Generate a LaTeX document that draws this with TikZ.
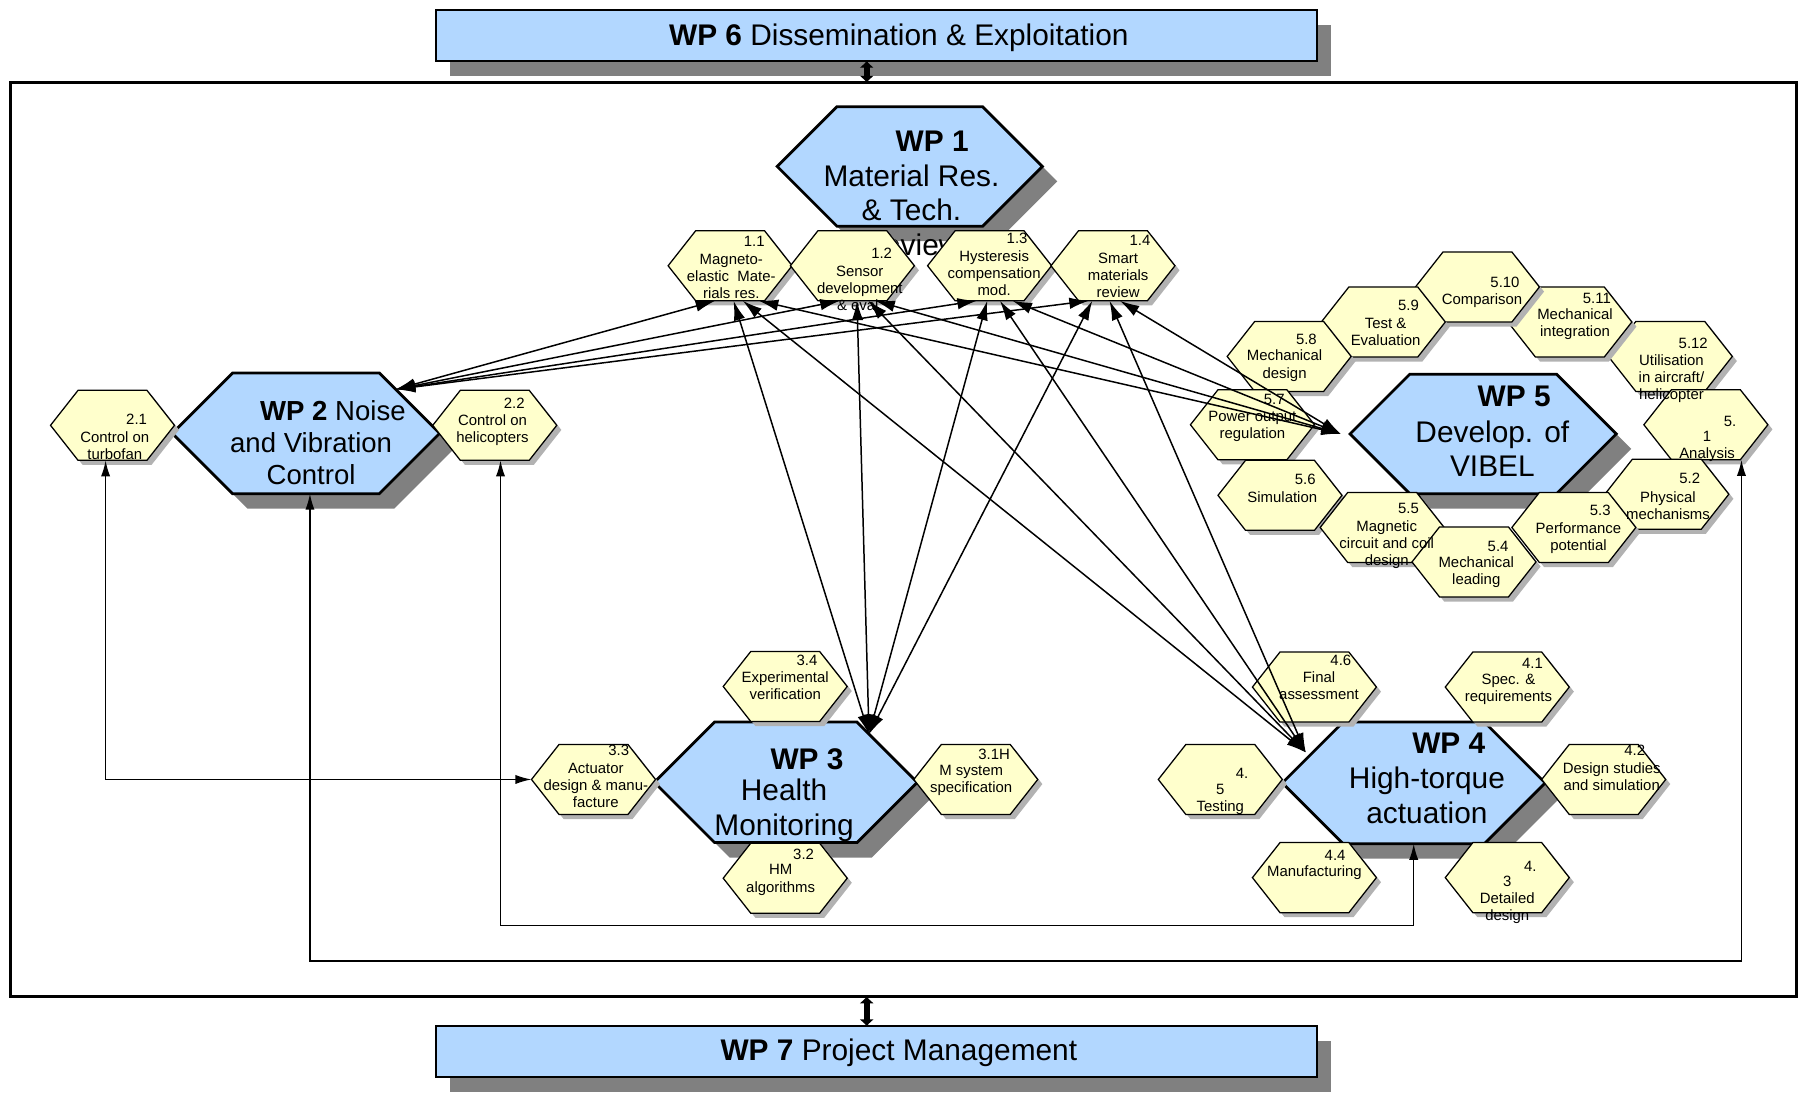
\documentclass[tikz,border=0pt]{standalone}
\usepackage{fontspec}
\setmainfont{Liberation Sans}
\usetikzlibrary{arrows.meta,calc,shadows}

\definecolor{wpblue}{RGB}{178,215,255}
\definecolor{wpyellow}{RGB}{255,255,204}
\definecolor{shdark}{RGB}{128,128,128}
\definecolor{shlight}{RGB}{178,178,178}

\newcommand\hexfill[6]{\path[#6] ({#1-#3},{#2}) -- ({#1-#3+#5},{#2-#4}) -- ({#1+#3-#5},{#2-#4}) -- ({#1+#3},{#2}) -- ({#1+#3-#5},{#2+#4}) -- ({#1-#3+#5},{#2+#4}) -- cycle;}

\newcommand\bighex[5]{%
  \hexfill{#2+13}{#3+13}{#4}{#5}{#5}{fill=shdark}
  \hexfill{#2}{#3}{#4}{#5}{#5}{fill=wpblue,draw=black,line width=2.4pt,line join=miter}
  \node[hexbox,minimum width={2*#4},minimum height={2*#5}] (#1) at (#2,#3) {};
  \coordinate (#1-w) at ({#2-#4},{#3});
  \coordinate (#1-e) at ({#2+#4},{#3});
  \coordinate (#1-nw) at ({#2-#4+#5},{#3-#5});
  \coordinate (#1-ne) at ({#2+#4-#5},{#3-#5});
  \coordinate (#1-sw) at ({#2-#4+#5},{#3+#5});
  \coordinate (#1-se) at ({#2+#4-#5},{#3+#5});
}

\newcommand\smallhex[3]{%
  \hexfill{#2+4}{#3+4}{54}{30.5}{24}{fill=shlight}
  \hexfill{#2}{#3}{54}{30.5}{24}{fill=wpyellow,draw=black,line width=1.1pt}
  \node[hexbox,minimum width=108pt,minimum height=61pt] (#1) at (#2,#3) {};
}

\tikzset{
  hexbox/.style={inner sep=0pt,outer sep=0pt,draw=none,fill=none,rectangle},
  bigtxt/.style={font=\fontsize{26}{30}\selectfont,inner sep=0pt,align=center},
  midtxt/.style={font=\fontsize{24}{27.5}\selectfont,inner sep=0pt,align=center},
  smtxt/.style={font=\fontsize{13}{15}\selectfont,inner sep=0pt,align=center},
  wpbox/.style={draw=black,line width=2pt,fill=wpblue,inner sep=0pt,outer sep=0pt,
    minimum width=767pt,minimum height=44pt,
    drop shadow={shadow xshift=12pt,shadow yshift=-13pt,fill=shdark,opacity=1}},
  frm/.style={draw=black,line width=3pt,inner sep=0pt,outer sep=0pt,minimum width=1556pt,minimum height=796pt},
  relarrow/.style={line width=1.3pt,{Latex[length=17pt,width=10pt]}-{Latex[length=17pt,width=10pt]}},
  busarrow/.style={line width=1.3pt,{Latex[length=14pt,width=8pt]}-{Latex[length=14pt,width=8pt]}},
  wparrow/.style={line width=5pt,{Latex[length=6pt,width=13pt]}-{Latex[length=6pt,width=13pt]}},
}

\begin{document}
\begin{tikzpicture}[x=1pt,y=-1pt]
\useasboundingbox (0,0) rectangle (1568,953);

% frame and top/bottom work packages
\node[frm] (frame) at (787,470) {};
\node[wpbox] (wp6) at (763.5,31) {};
\node[bigtxt] (wp6t) at (783,33) {\textbf{WP 6} Dissemination \& Exploitation};
\node[wpbox] (wp7) at (763.5,916) {};
\node[bigtxt] (wp7t) at (783,917) {\textbf{WP 7} Project Management};
\draw[wparrow] ([xshift=-8.5pt]wp6.south) -- ([xshift=-8.5pt]wp6.south |- frame.north);
\draw[wparrow] ([xshift=-8.5pt]wp7.north |- frame.south) -- ([xshift=-8.5pt]wp7.north);

% big hexagons
\bighex{wp1}{792.5}{145}{115.5}{52}
\bighex{wp2}{266.5}{377.5}{116.5}{52.5}
\bighex{wp3}{684.5}{681.5}{114.5}{52.5}
\bighex{wp4}{1231.5}{682}{114.5}{53}
\bighex{wp5}{1292}{378}{116}{52}

\node[bigtxt] (wp1a) at (812,123) {\textbf{WP 1}};
\node[bigtxt] (wp1b) at (794,183) {Material Res.\\\& Tech.\\Review};
\node[midtxt] (wp2a) at (290,358) {\textbf{WP 2} Noise};
\node[midtxt] (wp2b) at (271,399.5) {and Vibration\\Control};
\node[bigtxt] (wp3a) at (703,661) {\textbf{WP 3}};
\node[bigtxt] (wp3b) at (683,706) {Health\\Monitoring};
\node[bigtxt] (wp4a) at (1262,647) {\textbf{WP 4}};
\node[bigtxt] (wp4b) at (1243,693) {High-torque\\actuation};
\node[bigtxt] (wp5a) at (1319,345) {\textbf{WP 5}};
\node[bigtxt] (wp5b) at (1300,391) {Develop. of\\VIBEL};

% small hexagons
\smallhex{h11}{636}{231.5}
\smallhex{h12}{742.5}{231.5}
\smallhex{h13}{862}{231.5}
\smallhex{h14}{969.5}{231.5}
\smallhex{h21}{98}{370.5}
\smallhex{h22}{431}{370.5}
\smallhex{h31}{850}{679}
\smallhex{h32}{684}{765}
\smallhex{h33}{517}{679}
\smallhex{h34}{684}{598}
\smallhex{h41}{1313}{598.5}
\smallhex{h42}{1397}{679}
\smallhex{h43}{1313}{764.5}
\smallhex{h44}{1145}{764.5}
\smallhex{h45}{1063}{679}
\smallhex{h46}{1145}{598.5}
\smallhex{h512}{1455}{310.5}
\smallhex{h51}{1486}{370}
\smallhex{h52}{1452}{430.5}
\smallhex{h511}{1367.5}{280.5}
\smallhex{h510}{1287}{250}
\smallhex{h59}{1205}{280.5}
\smallhex{h58}{1123}{310.5}
\smallhex{h57}{1091}{370}
\smallhex{h56}{1115}{431.5}
\smallhex{h55}{1204}{459.5}
\smallhex{h54}{1284}{489.5}
\smallhex{h53}{1371}{459.5}

% small hexagon texts
\node[smtxt] (h11n) at (657,210) {1.1};
\node[smtxt] (h11t) at (637,241) {Magneto-\\elastic\ \ Mate-\\rials res.};
\node[smtxt] (h12n) at (768,221) {1.2};
\node[smtxt] (h12t) at (749,251) {Sensor\\development\\\& eval.};
\node[smtxt] (h13n) at (886,208) {1.3};
\node[smtxt] (h13t) at (866,238) {Hysteresis\\compensation\\mod.};
\node[smtxt] (h14n) at (993,209) {1.4};
\node[smtxt] (h14t) at (974,240) {Smart\\materials\\review};
\node[smtxt] (h21n) at (119,365) {2.1};
\node[smtxt] (h21t) at (100,388) {Control on\\turbofan};
\node[smtxt] (h22n) at (448,351) {2.2};
\node[smtxt] (h22t) at (429,374.5) {Control on\\helicopters};
\node[smtxt] (h31n) at (866,657) {3.1H};
\node[smtxt] (h31t) at (846,679.5) {M system\\specification};
\node[smtxt] (h32n) at (700,744) {3.2};
\node[smtxt] (h32t) at (680,766.5) {HM\\algorithms};
\node[smtxt] (h33n) at (539,654) {3.3};
\node[smtxt] (h33t) at (519,684) {Actuator\\design \& manu-\\facture};
\node[smtxt] (h34n) at (703,575) {3.4};
\node[smtxt] (h34t) at (684,597.5) {Experimental\\verification};
\node[smtxt] (h41n) at (1335,578) {4.1};
\node[smtxt] (h41t) at (1314,600.5) {Spec. \&\\requirements};
\node[smtxt] (h42n) at (1424,654) {4.2};
\node[smtxt] (h42t) at (1404,676.5) {Design studies\\and simulation};
\node[smtxt] (h43n) at (1333,755) {4.};
\node[smtxt] (h43t) at (1313,784) {3\\Detailed\\design};
\node[smtxt] (h44n) at (1163,745) {4.4};
\node[smtxt] (h44t) at (1145,760) {Manufacturing};
\node[smtxt] (h45n) at (1082,674) {4.};
\node[smtxt] (h45t) at (1063,696.5) {5\\Testing};
\node[smtxt] (h46n) at (1168,575) {4.6};
\node[smtxt] (h46t) at (1149,597.5) {Final\\assessment};
\node[smtxt] (h51n) at (1507,367) {5.};
\node[smtxt] (h51t) at (1487,389) {1\\Analysis};
\node[smtxt] (h52n) at (1472,417) {5.2};
\node[smtxt] (h52t) at (1453,440.5) {Physical\\mechanisms};
\node[smtxt] (h53n) at (1394,445) {5.3};
\node[smtxt] (h53t) at (1375,468.5) {Performance\\potential};
\node[smtxt] (h54n) at (1305,476) {5.4};
\node[smtxt] (h54t) at (1286,498.5) {Mechanical\\leading};
\node[smtxt] (h55n) at (1227,443) {5.5};
\node[smtxt] (h55t) at (1208,474.5) {Magnetic\\circuit and coil\\design};
\node[smtxt] (h56n) at (1137,418) {5.6};
\node[smtxt] (h56t) at (1117,433) {Simulation};
\node[smtxt] (h57n) at (1110,348) {5.7};
\node[smtxt] (h57t) at (1091,371.5) {Power output\\regulation};
\node[smtxt] (h58n) at (1138,296) {5.8};
\node[smtxt] (h58t) at (1119,318.5) {Mechanical\\design};
\node[smtxt] (h59n) at (1227,266) {5.9};
\node[smtxt] (h59t) at (1207,289) {Test \&\\Evaluation};
\node[smtxt] (h510n) at (1311,246) {5.10};
\node[smtxt] (h510t) at (1291,262) {Comparison};
\node[smtxt] (h511n) at (1391,260) {5.11};
\node[smtxt] (h511t) at (1372,282.5) {Mechanical\\integration};
\node[smtxt] (h512n) at (1475,299) {5.12};
\node[smtxt] (h512t) at (1456,330) {Utilisation\\in aircraft/\\helicopter};

% arrow targets on the big hexagons
\coordinate (T2) at ($(wp2-ne)!0.27!(wp2-e)$);
\coordinate (T3) at ($(wp3-ne)!0.2!(wp3-e)$);
\coordinate (T4) at ($(wp4-w)!0.5!(wp4-nw)+(-6,0)$);
\coordinate (T5) at ($(wp5-w)+(-8,0)$);

% links from WP1 tasks to WP2..WP5
\foreach \h/\a/\b/\c/\d in {h11/-13/3/11/25, h12/-11/4/14/20, h13/-11/-2/9/20, h14/-21/-18/-3/6}{
  \draw[relarrow] ([xshift=\a pt]\h.south) -- (T2);
  \draw[relarrow] ([xshift=\b pt]\h.south) -- (T3);
  \draw[relarrow] ([xshift=\c pt]\h.south) -- (T4);
  \draw[relarrow] ([xshift=\d pt]\h.south) -- (T5);
}

% orthogonal links
\coordinate (busA) at (900,837);
\coordinate (busB) at (800,806);
\draw[busarrow] ([xshift=3.5pt]wp2.south) |- (busA) -| ([xshift=31pt]h51.south);
\draw[busarrow] ([xshift=5pt]h22.south) |- (busB) -| (wp4.south);
\draw[busarrow] ([xshift=-6pt]h21.south) |- (h33.west);
\end{tikzpicture}
\end{document}
